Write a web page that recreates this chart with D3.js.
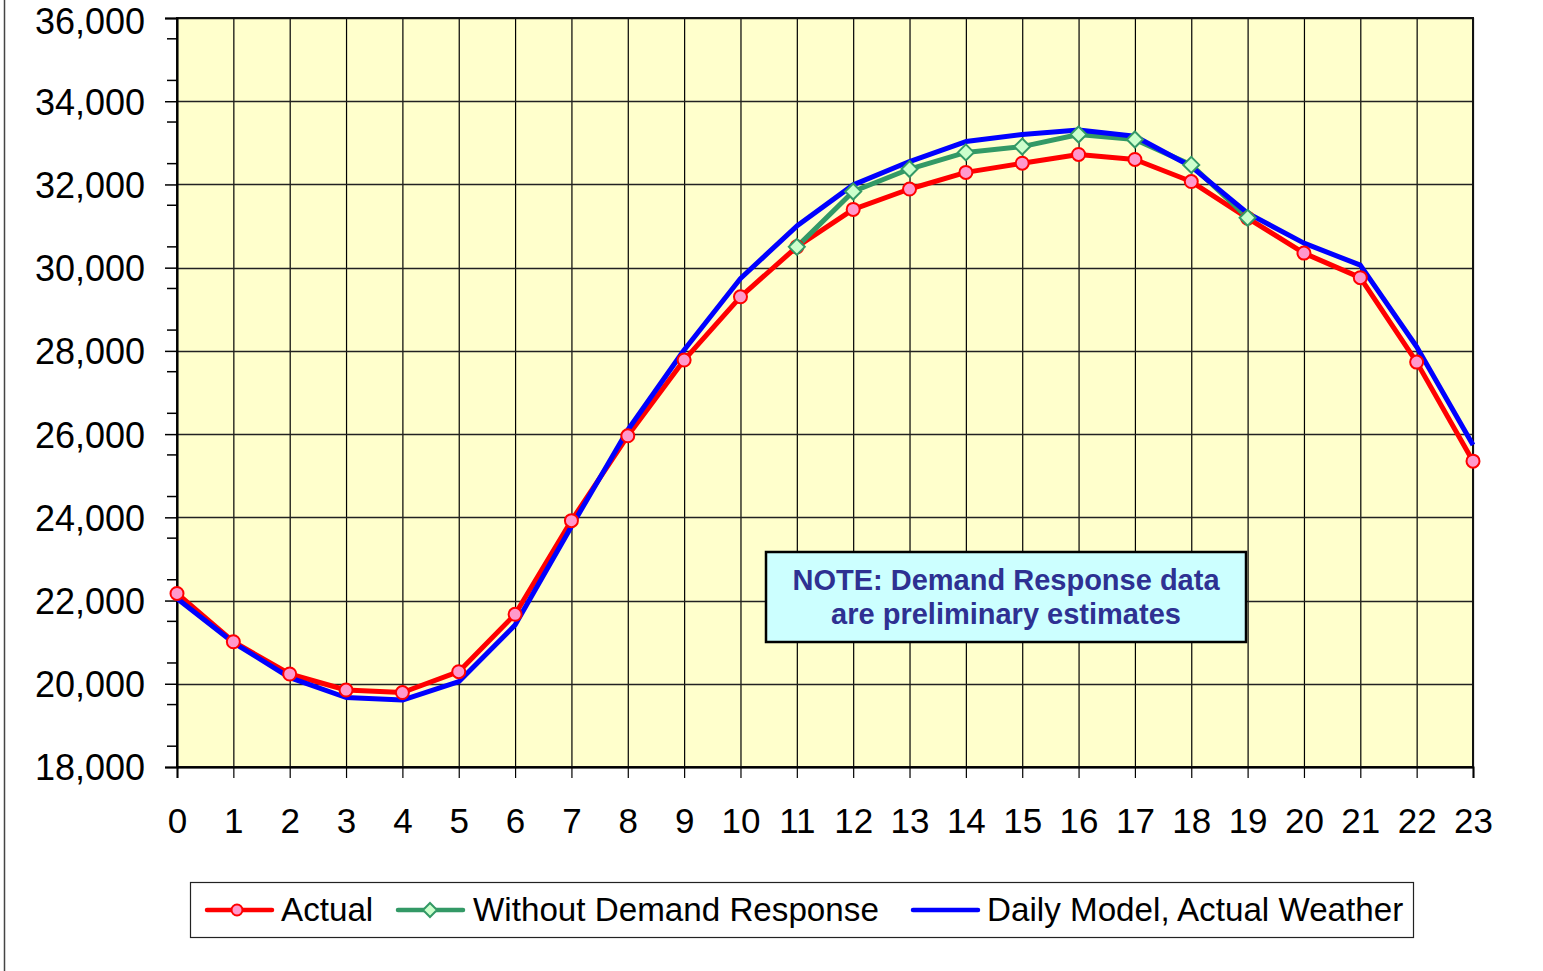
<!DOCTYPE html>
<html>
<head>
<meta charset="utf-8">
<script src="https://cdn.jsdelivr.net/npm/d3@7/dist/d3.min.js"></script>
<style>
  html, body { margin: 0; padding: 0; background: #fff; }
  svg { display: block; font-family: "Liberation Sans", Arial, sans-serif; }
</style>
</head>
<body>
<svg id="chart" width="1543" height="971"></svg>
<script>
// ---- data ----
const hours = d3.range(0, 24);
const xTickLabels = hours.map(String);
const yTickValues = [18000, 20000, 22000, 24000, 26000, 28000, 30000, 32000, 34000, 36000];
const actual = [22170, 21010, 20235, 19850, 19790, 20290, 21670, 23920, 25960, 27780, 29300, 30500,
                31400, 31890, 32290, 32510, 32720, 32600, 32070, 31190, 30350, 29760, 27730, 25350];
const withoutDR = [null, null, null, null, null, null, null, null, null, null, null, 30500,
                   31830, 32370, 32770, 32910, 33200, 33080, 32470, 31200, null, null, null, null];
const dailyModel = [22050, 20990, 20150, 19670, 19610, 20050, 21410, 23780, 26100, 28020, 29740, 31000,
                    31990, 32550, 33030, 33200, 33310, 33160, 32430, 31310, 30590, 30060, 28100, 25740];
const seriesNames = ["Actual", "Without Demand Response", "Daily Model, Actual Weather"];
const noteLines = ["NOTE: Demand Response data", "are preliminary estimates"];

// ---- layout ----
const svg = d3.select("#chart");
const L = 177, R = 1473, T = 18, B = 767;
const x = d3.scaleLinear().domain([0, 23]).range([L, R]);
const y = d3.scaleLinear().domain([18000, 36000]).range([B, T]);

// outer chart border (left edge visible)
svg.append("line").attr("x1", 4.5).attr("x2", 4.5).attr("y1", 0).attr("y2", 971)
  .attr("stroke", "#444").attr("stroke-width", 1.5);

// plot background
svg.append("rect").attr("x", L).attr("y", T).attr("width", R - L).attr("height", B - T)
  .attr("fill", "#FFFFCC");

// grid
const grid = svg.append("g");
grid.selectAll("line.v").data(hours).join("line")
  .attr("x1", d => x(d) + 0.5).attr("x2", d => x(d) + 0.5)
  .attr("y1", T).attr("y2", B).attr("stroke", "#000").attr("stroke-width", 1.2);
grid.selectAll("line.h").data(yTickValues).join("line")
  .attr("x1", L).attr("x2", R)
  .attr("y1", d => Math.round(y(d)) + 0.5).attr("y2", d => Math.round(y(d)) + 0.5)
  .attr("stroke", "#222").attr("stroke-width", 1.3);

// plot border
svg.append("rect").attr("x", L).attr("y", T).attr("width", R - L).attr("height", B - T)
  .attr("fill", "none").attr("stroke", "#111").attr("stroke-width", 2);

// y axis
const yAxis = d3.axisLeft(y).tickValues(yTickValues).tickSize(12).tickPadding(20)
  .tickFormat(d3.format(","));
const gy = svg.append("g").attr("transform", `translate(${L},0)`).call(yAxis);
gy.select(".domain").attr("stroke", "#000").attr("stroke-width", 2);
gy.selectAll(".tick line").attr("stroke", "#000").attr("stroke-width", 1.5);
gy.selectAll(".tick text").attr("font-size", 36).attr("fill", "#000")
  .attr("font-family", "Liberation Sans, Arial, sans-serif")
  .attr("dy", d => d === 36000 ? "0.42em" : "0.36em");
// minor y ticks
const minor = d3.range(18500, 36000, 1000);
svg.append("g").selectAll("line").data(minor).join("line")
  .attr("x1", L - 10).attr("x2", L)
  .attr("y1", d => y(d)).attr("y2", d => y(d))
  .attr("stroke", "#000").attr("stroke-width", 1.5);

// x axis
const xAxis = d3.axisBottom(x).tickValues(hours).tickSize(11).tickPadding(30)
  .tickFormat((d, i) => xTickLabels[i]);
const gx = svg.append("g").attr("transform", `translate(0,${B})`).call(xAxis);
gx.select(".domain").attr("stroke", "#000").attr("stroke-width", 2);
gx.selectAll(".tick line").attr("stroke", "#000").attr("stroke-width", 1.2);
gx.selectAll(".tick text").attr("font-size", 35).attr("fill", "#000")
  .attr("font-family", "Liberation Sans, Arial, sans-serif").attr("dy", "0.71em");

// lines
const lineGen = d3.line().defined(d => d != null).x((d, i) => x(i)).y(d => y(d));
const redC = "#FF0000", greenC = "#339966", blueC = "#0000FF";
[[actual, redC], [withoutDR, greenC], [dailyModel, blueC]].forEach(([data, c]) => {
  svg.append("path").datum(data).attr("d", lineGen)
    .attr("fill", "none").attr("stroke", c).attr("stroke-width", 5).attr("stroke-linejoin", "round");
});

// markers
svg.append("g").selectAll("circle").data(actual.map((v, i) => [i, v])).join("circle")
  .attr("cx", d => x(d[0])).attr("cy", d => y(d[1])).attr("r", 6.5)
  .attr("fill", "#FF99CC").attr("stroke", redC).attr("stroke-width", 2);
const diamond = s => `M0,${-s}L${s},0L0,${s}L${-s},0Z`;
svg.append("g").selectAll("path").data(withoutDR.map((v, i) => [i, v]).filter(d => d[1] != null)).join("path")
  .attr("transform", d => `translate(${x(d[0])},${y(d[1])})`).attr("d", diamond(8))
  .attr("fill", "#CCFFCC").attr("stroke", greenC).attr("stroke-width", 2);

// note box
const note = svg.append("g");
note.append("rect").attr("x", 766).attr("y", 552).attr("width", 480).attr("height", 90)
  .attr("fill", "#CCFFFF").attr("stroke", "#000").attr("stroke-width", 2.5);
note.selectAll("text").data(noteLines).join("text")
  .attr("x", 1006).attr("y", (d, i) => 590 + i * 34)
  .attr("text-anchor", "middle").attr("font-size", 29).attr("font-weight", "bold")
  .attr("fill", "#2E3192").text(d => d);

// legend
const leg = svg.append("g");
leg.append("rect").attr("x", 190.5).attr("y", 882.5).attr("width", 1223).attr("height", 55)
  .attr("fill", "#fff").attr("stroke", "#222").attr("stroke-width", 1.2);
const legItems = [
  { name: seriesNames[0], color: redC, x0: 207, marker: "circle", tx: 281 },
  { name: seriesNames[1], color: greenC, x0: 398, marker: "diamond", tx: 473 },
  { name: seriesNames[2], color: blueC, x0: 913, marker: null, tx: 987 }
];
const ly = 910;
legItems.forEach(it => {
  leg.append("line").attr("x1", it.x0).attr("x2", it.x0 + 65).attr("y1", ly).attr("y2", ly)
    .attr("stroke", it.color).attr("stroke-width", 4.5).attr("stroke-linecap", "round");
  if (it.marker === "circle") {
    leg.append("circle").attr("cx", it.x0 + 30).attr("cy", ly).attr("r", 5.5)
      .attr("fill", "#FF99CC").attr("stroke", redC).attr("stroke-width", 2);
  } else if (it.marker === "diamond") {
    leg.append("path").attr("transform", `translate(${it.x0 + 32},${ly})`).attr("d", diamond(7))
      .attr("fill", "#CCFFCC").attr("stroke", greenC).attr("stroke-width", 2);
  }
  leg.append("text").attr("x", it.tx).attr("y", 921).attr("font-size", 33.2)
    .attr("fill", "#000").text(it.name);
});
</script>
</body>
</html>
